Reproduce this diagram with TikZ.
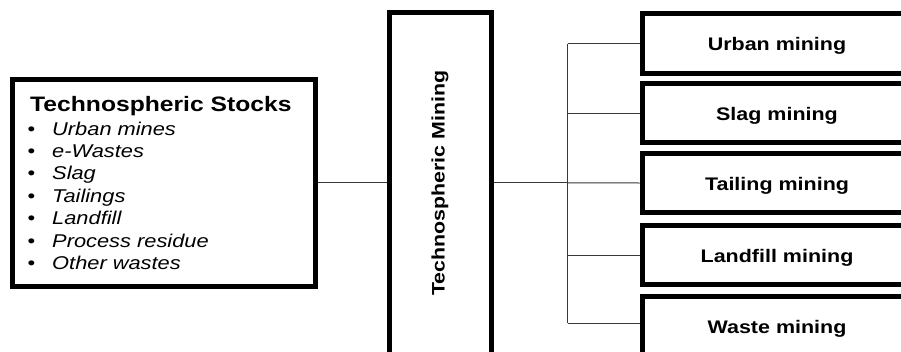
\documentclass[tikz,border=0pt]{standalone}
\usepackage{fontspec}
\setmainfont{Liberation Sans}[FakeStretch=1.18]
\begin{document}
\begin{tikzpicture}[x=1pt, y=-1pt,
  frame/.style={draw=black, line width=5pt, fill=white, inner sep=0pt},
  link/.style={draw=black!78, line width=1pt},
  titletext/.style={inner sep=0pt, font=\fontsize{20.9}{24}\selectfont\bfseries},
  itemtext/.style={inner sep=0pt, font=\fontsize{18.5}{22}\selectfont\itshape},
  boxlabel/.style={font=\fontsize{18.2}{22}\selectfont\bfseries, text height=14.5pt, text depth=0pt},
  sidelabel/.style={inner sep=0pt, font=\fontsize{18.1}{22}\selectfont\bfseries}]
\useasboundingbox (0,0) rectangle (901,351);
\fill[white] (0,0) rectangle (901,351);
\clip (0,0) rectangle (901,351);

% stocks box with its list
\node[frame, minimum width=302.5pt, minimum height=206.5pt] (stocks) at (163.75,182.75) {};
\node[titletext, anchor=base west] (stockstitle) at (30,111) {Technospheric Stocks};
\foreach \t [count=\i] in {Urban mines, e-Wastes, Slag, Tailings, Landfill, Process residue, Other wastes} {
  \node[itemtext, anchor=base west] (item\i) at (27.5,{135+22.4*(\i-1)})
    {\makebox[24.5pt][l]{\upshape\textbullet}\t};
}

% central mining column
\node[frame, minimum width=102pt, minimum height=347.5pt] (mining) at (440,186.25) {};
\node[sidelabel, rotate=90] (mininglabel) at (440,183) {Technospheric Mining};

% mining categories
\foreach \t/\yc [count=\i] in {Urban mining/43.5, Slag mining/113, Tailing mining/183, Landfill mining/255, Waste mining/326} {
  \node[frame, boxlabel, minimum width=270pt, minimum height=59.5pt] (r\i) at (777,\yc) {\t};
}

% connectors
\coordinate (hub) at (567.7,182.75);
\coordinate (b5) at ([yshift=3pt]r5.west);
\draw[link] (stocks.east) -- (stocks.east -| mining.west);
\draw[link] (mining.east |- stocks.east) -- (hub);
\draw[link] (hub |- r1.west) -- (hub |- b5);
\draw[link] (hub |- r1.west) -- (r1.west);
\draw[link] (hub |- r2.west) -- (r2.west);
\draw[link] (hub) -- (r3.west);
\draw[link] (hub |- r4.west) -- (r4.west);
\draw[link] (hub |- b5) -- (b5);
\end{tikzpicture}
\end{document}
